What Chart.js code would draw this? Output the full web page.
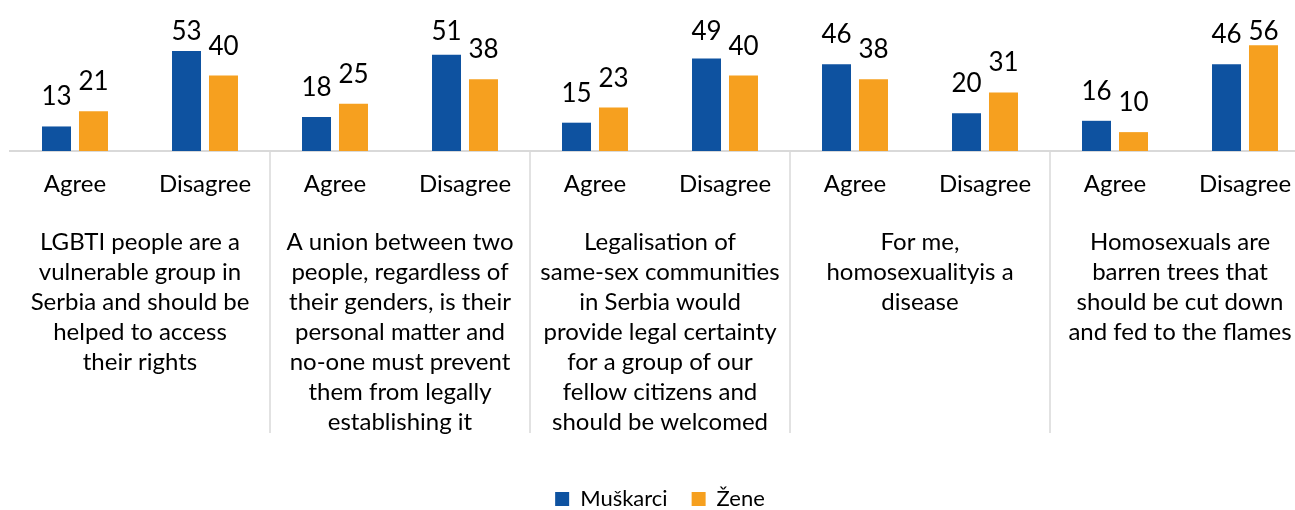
<!DOCTYPE html>
<html>
<head>
<meta charset="utf-8">
<script src="https://cdn.jsdelivr.net/npm/chart.js@4"></script>
<style>
  html, body { margin: 0; padding: 0; background: #fff; overflow: hidden; }
  #wrap { position: relative; width: 1320px; height: 520px; }
</style>
</head>
<body>
<div id="wrap"><canvas id="myChart"></canvas></div>
<script>
// answers on the first axis row, repeated under each statement
const answers = ['Agree', 'Disagree', 'Agree', 'Disagree', 'Agree', 'Disagree', 'Agree', 'Disagree', 'Agree', 'Disagree'];

// statements on the second axis row, already broken into lines
const statements = [
    ['LGBTI people are a', 'vulnerable group in', 'Serbia and should be', 'helped to access', 'their rights'],
    ['A union between two', 'people, regardless of', 'their genders, is their', 'personal matter and', 'no-one must prevent', 'them from legally', 'establishing it'],
    ['Legalisation of', 'same-sex communities', 'in Serbia would', 'provide legal certainty', 'for a group of our', 'fellow citizens and', 'should be welcomed'],
    ['For me,', 'homosexualityis a', 'disease'],
    ['Homosexuals are', 'barren trees that', 'should be cut down', 'and fed to the flames']
];

const men = [13, 53, 18, 51, 15, 49, 46, 20, 16, 46];
const women = [21, 40, 25, 38, 23, 40, 38, 31, 10, 56];

const FONT = 'Lato, "Open Sans", sans-serif';

// numbers above the bars, kept below the top edge of the canvas
const valueLabels = {
    id: 'valueLabels',
    afterDatasetsDraw(chart) {
        const ctx = chart.ctx;
        ctx.save();
        ctx.font = '26px ' + FONT;
        ctx.fillStyle = '#000';
        ctx.textAlign = 'center';
        ctx.textBaseline = 'alphabetic';
        chart.data.datasets.forEach((ds, i) => {
            chart.getDatasetMeta(i).data.forEach((bar, j) => {
                const y = Math.max(bar.y - 21, 40);
                ctx.fillText(String(ds.data[j]), bar.x, y);
            });
        });
        ctx.restore();
    }
};

// vertical lines between the statement groups
const groupLines = {
    id: 'groupLines',
    afterDraw(chart) {
        const x = chart.scales.x;
        const ctx = chart.ctx;
        ctx.save();
        ctx.strokeStyle = '#d9d9d9';
        ctx.lineWidth = 1.5;
        for (let k = 1; k < statements.length; k++) {
            const px = (x.getPixelForValue(2 * k - 1) + x.getPixelForValue(2 * k)) / 2;
            ctx.beginPath();
            ctx.moveTo(px, chart.chartArea.bottom);
            ctx.lineTo(px, 433);
            ctx.stroke();
        }
        ctx.restore();
    }
};

// fixed axis heights; long labels may run into the side margins
function fixHeight(h) {
    return function (scale) {
        scale.height = h;
        scale.paddingLeft = 0;
        scale.paddingRight = 0;
    };
}

const ctx = document.getElementById('myChart').getContext('2d');
new Chart(ctx, {
    type: 'bar',
    data: {
        labels: answers,
        datasets: [
            {
                label: 'Muškarci',
                data: men,
                backgroundColor: '#0E52A0',
                xAxisID: 'x',
            },
            {
                label: 'Žene',
                data: women,
                backgroundColor: '#F6A01F',
                xAxisID: 'x',
            },
        ],
    },
    options: {
        responsive: true,
        maintainAspectRatio: false,
        animation: false,
        layout: { padding: { left: 10, right: 10, top: 0, bottom: 0 } },
        datasets: {
            bar: { categoryPercentage: 0.569, barPercentage: 0.784 }
        },
        plugins: {
            legend: {
                position: 'bottom',
                labels: {
                    font: { family: FONT, size: 22 },
                    color: '#000',
                    boxWidth: 14,
                    boxHeight: 14,
                    padding: 24,
                },
            },
            tooltip: { enabled: false },
        },
        scales: {
            x: {
                position: 'bottom',
                grid: { display: false, drawTicks: false },
                border: { display: true, color: '#d9d9d9', width: 2 },
                ticks: {
                    font: { family: FONT, size: 24 },
                    color: '#000',
                    padding: 19,
                    maxRotation: 0,
                    autoSkip: false,
                },
                afterFit: fixHeight(46),
            },
            x2: {
                type: 'category',
                position: 'bottom',
                labels: statements,
                offset: true,
                grid: { display: false, drawTicks: false },
                border: { display: false },
                ticks: {
                    font: { family: FONT, size: 24, lineHeight: '30px' },
                    color: '#000',
                    padding: 30,
                    maxRotation: 0,
                    autoSkip: false,
                },
                afterFit: fixHeight(267),
            },
            y: {
                display: false,
                min: 0,
                max: 80,
            },
        },
    },
    plugins: [valueLabels, groupLines],
});
</script>
</body>
</html>
